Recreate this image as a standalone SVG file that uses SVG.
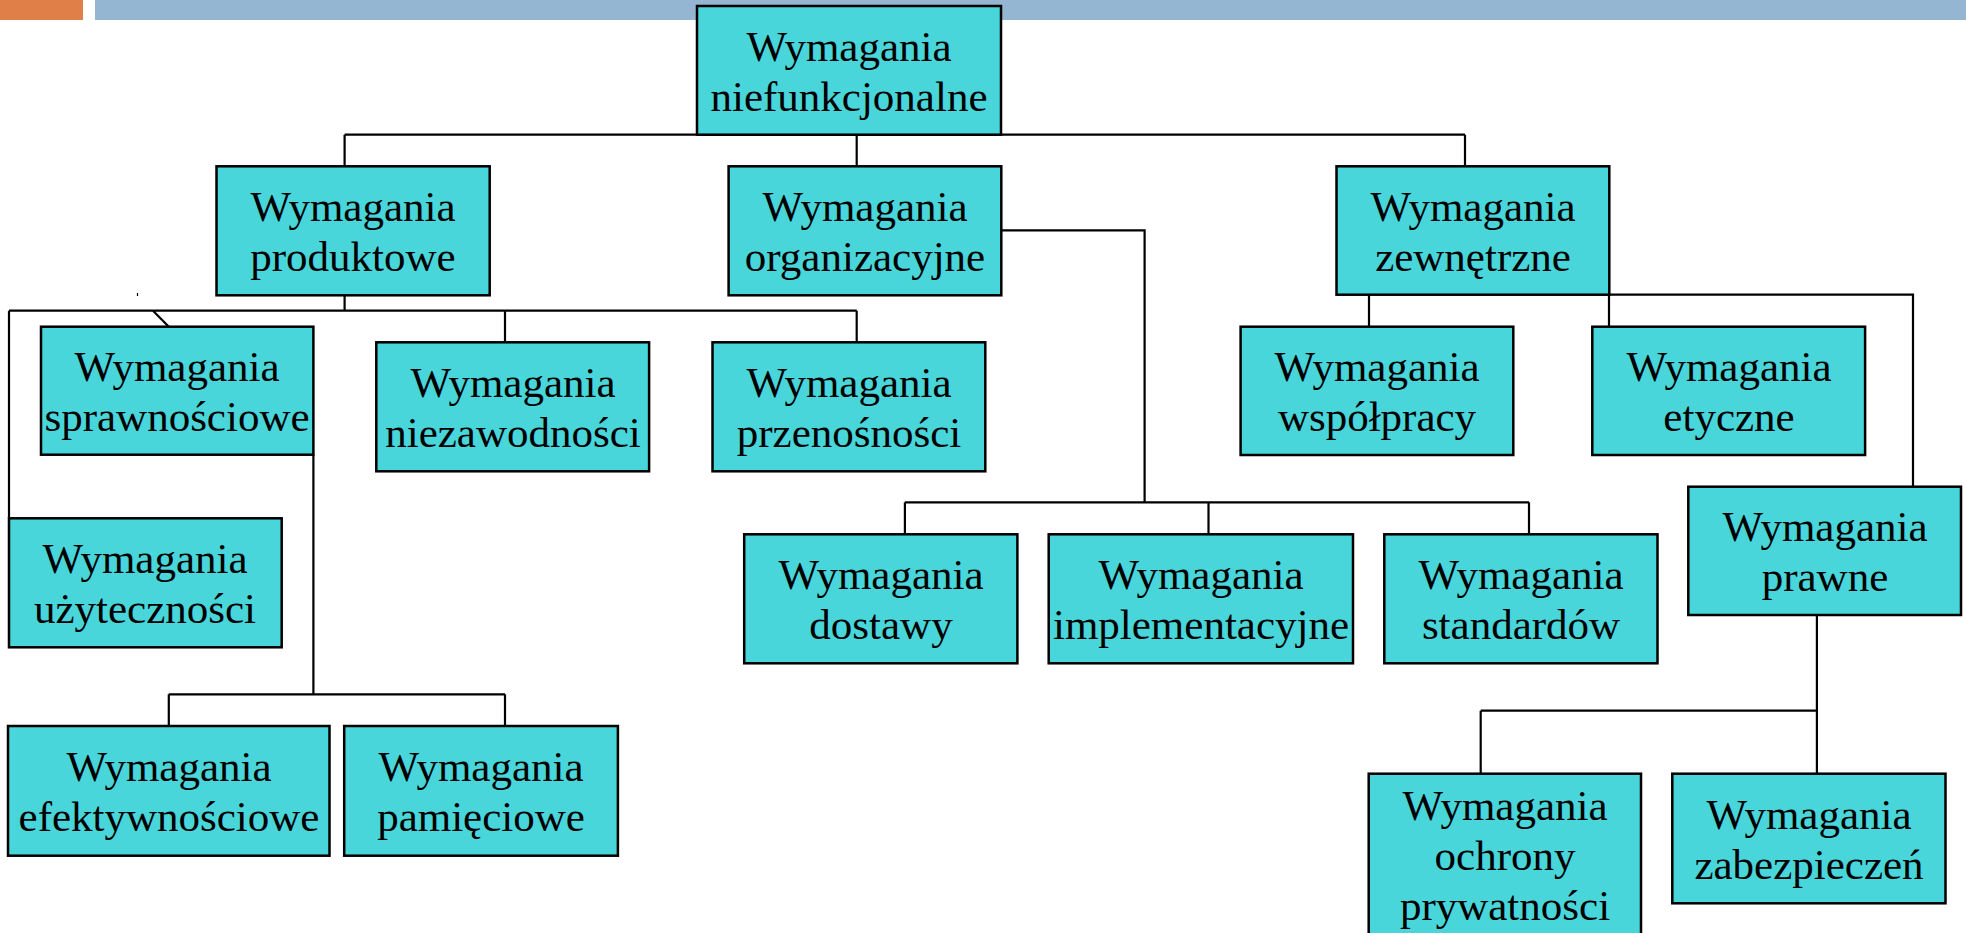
<svg xmlns="http://www.w3.org/2000/svg" width="1966" height="933" viewBox="0 0 1966 933">
  <style>
    .box { fill: #49D6DA; stroke: #000; stroke-width: 2.5; }
    .lbl { font-family: "Liberation Serif", "Times New Roman", serif; font-size: 43px; fill: #000; text-anchor: middle; }
    .wire { fill: none; stroke: #000; stroke-width: 2.2; }
  </style>

  <!-- header bars -->
  <rect x="0" y="0" width="83" height="20" fill="#E08048"/>
  <rect x="95" y="0" width="1871" height="20" fill="#95B6D3"/>

  <!-- connectors -->
  <g id="connectors" class="wire">
    <!-- root to level 1 -->
    <path d="M344.6 134.7 H1465 M344.6 134.7 V166.3 M856.7 134.7 V166.3 M1465 134.7 V166.3"/>
    <!-- produktowe -->
    <path d="M344.6 295.3 V310.7 M9 310.7 H856.7 M9 310.7 V518.3 M153 310.7 L168.8 326.7 M505 310.7 V342.3 M856.7 310.7 V342.3"/>
    <!-- sprawnosciowe -->
    <path d="M313.4 454.7 V694.3 M168.8 694.3 H505 M168.8 694.3 V726 M505 694.3 V726"/>
    <!-- organizacyjne -->
    <path d="M1001.3 230.3 H1144.6 V502.3 M904.9 502.3 H1529 M904.9 502.3 V534.3 M1208.5 502.3 V534.3 M1529 502.3 V534.3"/>
    <!-- zewnetrzne -->
    <path d="M1369 295 V326.7 M1609 295 V326.7 M1609 294.7 H1913 V486.7"/>
    <!-- prawne -->
    <path d="M1816.9 615 V773.7 M1480.7 710.7 H1816.9 M1480.7 710.7 V773.7"/>
    <path d="M137.5 293 V296" stroke-width="1.2"/>
  </g>

  <g id="n-root">
    <rect class="box" x="697" y="6" width="304" height="128.7"/>
    <text class="lbl"><tspan x="849" y="60.5">Wymagania</tspan><tspan x="849" y="110.5">niefunkcjonalne</tspan></text>
  </g>
  <g id="n-produktowe">
    <rect class="box" x="216.5" y="166.3" width="273.2" height="129"/>
    <text class="lbl"><tspan x="353" y="220.8">Wymagania</tspan><tspan x="353" y="270.8">produktowe</tspan></text>
  </g>
  <g id="n-organizacyjne">
    <rect class="box" x="728.6" y="166.3" width="272.7" height="129"/>
    <text class="lbl"><tspan x="865" y="220.8">Wymagania</tspan><tspan x="865" y="270.8">organizacyjne</tspan></text>
  </g>
  <g id="n-zewnetrzne">
    <rect class="box" x="1336.5" y="166.3" width="272.8" height="128.4"/>
    <text class="lbl"><tspan x="1473" y="220.8">Wymagania</tspan><tspan x="1473" y="270.8">zewnętrzne</tspan></text>
  </g>
  <g id="n-sprawnosciowe">
    <rect class="box" x="41" y="326.7" width="272.4" height="128"/>
    <text class="lbl"><tspan x="177" y="380.7">Wymagania</tspan><tspan x="177" y="430.7">sprawnościowe</tspan></text>
  </g>
  <g id="n-niezawodnosci">
    <rect class="box" x="376.3" y="342.3" width="272.8" height="129"/>
    <text class="lbl"><tspan x="513" y="396.8">Wymagania</tspan><tspan x="513" y="446.8">niezawodności</tspan></text>
  </g>
  <g id="n-przenosnosci">
    <rect class="box" x="712.5" y="342.3" width="272.8" height="129"/>
    <text class="lbl"><tspan x="849" y="396.8">Wymagania</tspan><tspan x="849" y="446.8">przenośności</tspan></text>
  </g>
  <g id="n-uzytecznosci">
    <rect class="box" x="9" y="518.3" width="272.7" height="129"/>
    <text class="lbl"><tspan x="145" y="572.8">Wymagania</tspan><tspan x="145" y="622.8">użyteczności</tspan></text>
  </g>
  <g id="n-efektywnosciowe">
    <rect class="box" x="8" y="726" width="321.5" height="129.7"/>
    <text class="lbl"><tspan x="169" y="780.8">Wymagania</tspan><tspan x="169" y="830.8">efektywnościowe</tspan></text>
  </g>
  <g id="n-pamieciowe">
    <rect class="box" x="344.2" y="726" width="273.7" height="129.7"/>
    <text class="lbl"><tspan x="481" y="780.8">Wymagania</tspan><tspan x="481" y="830.8">pamięciowe</tspan></text>
  </g>
  <g id="n-dostawy">
    <rect class="box" x="744.2" y="534.3" width="273.2" height="129"/>
    <text class="lbl"><tspan x="881" y="588.8">Wymagania</tspan><tspan x="881" y="638.8">dostawy</tspan></text>
  </g>
  <g id="n-implementacyjne">
    <rect class="box" x="1048.7" y="534.3" width="304.3" height="129"/>
    <text class="lbl"><tspan x="1201" y="588.8">Wymagania</tspan><tspan x="1201" y="638.8">implementacyjne</tspan></text>
  </g>
  <g id="n-standardow">
    <rect class="box" x="1384.3" y="534.3" width="273.2" height="129"/>
    <text class="lbl"><tspan x="1521" y="588.8">Wymagania</tspan><tspan x="1521" y="638.8">standardów</tspan></text>
  </g>
  <g id="n-wspolpracy">
    <rect class="box" x="1240.6" y="326.7" width="272.7" height="128.3"/>
    <text class="lbl"><tspan x="1377" y="380.8">Wymagania</tspan><tspan x="1377" y="430.8">współpracy</tspan></text>
  </g>
  <g id="n-etyczne">
    <rect class="box" x="1592.3" y="326.7" width="272.8" height="128.3"/>
    <text class="lbl"><tspan x="1729" y="380.8">Wymagania</tspan><tspan x="1729" y="430.8">etyczne</tspan></text>
  </g>
  <g id="n-prawne">
    <rect class="box" x="1688.3" y="486.7" width="272.7" height="128.3"/>
    <text class="lbl"><tspan x="1825" y="540.8">Wymagania</tspan><tspan x="1825" y="590.8">prawne</tspan></text>
  </g>
  <g id="n-ochrony">
    <rect class="box" x="1368.7" y="773.7" width="272.3" height="175"/>
    <text class="lbl"><tspan x="1505" y="820">Wymagania</tspan><tspan x="1505" y="870">ochrony</tspan><tspan x="1505" y="920">prywatności</tspan></text>
  </g>
  <g id="n-zabezpieczen">
    <rect class="box" x="1672.3" y="773.7" width="273.2" height="129.6"/>
    <text class="lbl"><tspan x="1809" y="828.5">Wymagania</tspan><tspan x="1809" y="878.5">zabezpieczeń</tspan></text>
  </g>
</svg>
